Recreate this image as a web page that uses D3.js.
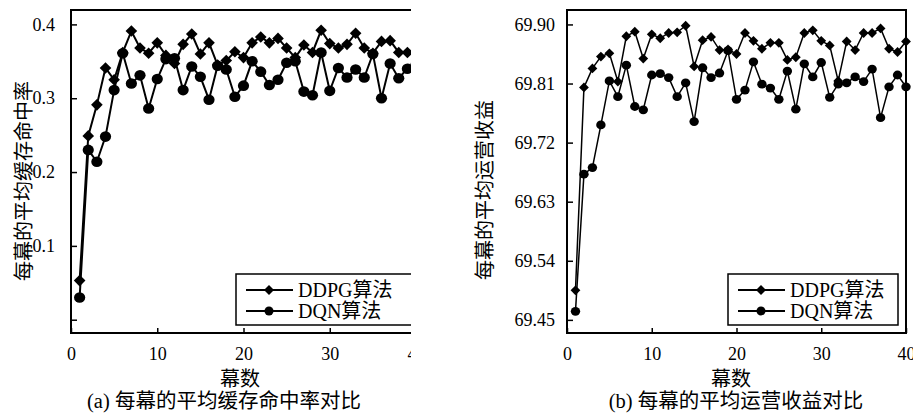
<!DOCTYPE html>
<html>
<head>
<meta charset="utf-8">
<script src="https://cdn.jsdelivr.net/npm/d3@7"></script>
<style>
  body { margin: 0; background: #fff; }
  text { font-family: "Liberation Serif", "Noto Sans CJK SC", serif; fill: #000; }
</style>
</head>
<body>
<svg id="chart" width="913" height="417"></svg>
<script>
// episode index (x)
var episodes = [1,2,3,4,5,6,7,8,9,10,11,12,13,14,15,16,17,18,19,20,
                21,22,23,24,25,26,27,28,29,30,31,32,33,34,35,36,37,38,39,40];

// (a) average cache hit rate per episode
var hitDDPG = [0.053,0.249,0.291,0.341,0.325,0.362,0.391,0.368,0.361,0.375,
               0.358,0.347,0.373,0.387,0.360,0.375,0.345,0.351,0.363,0.355,
               0.375,0.383,0.375,0.381,0.368,0.355,0.372,0.362,0.392,0.374,
               0.368,0.373,0.388,0.368,0.361,0.377,0.378,0.362,0.362,0.360];
var hitDQN  = [0.030,0.230,0.214,0.248,0.311,0.361,0.320,0.331,0.286,0.326,
               0.353,0.354,0.311,0.343,0.329,0.298,0.344,0.339,0.302,0.317,
               0.350,0.336,0.318,0.325,0.348,0.350,0.309,0.304,0.362,0.310,
               0.341,0.328,0.339,0.328,0.360,0.300,0.347,0.327,0.340,0.345];

// (b) average operating revenue per episode
var revDDPG = [69.495,69.804,69.833,69.851,69.856,69.813,69.882,69.889,69.848,69.885,
               69.879,69.887,69.888,69.898,69.836,69.876,69.881,69.861,69.862,69.855,
               69.887,69.875,69.863,69.872,69.872,69.846,69.850,69.887,69.891,69.875,
               69.868,69.814,69.874,69.861,69.887,69.887,69.894,69.863,69.858,69.874];
var revDQN  = [69.463,69.672,69.682,69.747,69.814,69.790,69.838,69.775,69.770,69.823,
               69.825,69.819,69.790,69.811,69.752,69.834,69.819,69.826,69.860,69.786,
               69.800,69.843,69.809,69.803,69.786,69.829,69.771,69.840,69.820,69.842,
               69.789,69.809,69.811,69.820,69.813,69.832,69.758,69.805,69.823,69.805];

var xTicks = [0, 10, 20, 30, 40];
var hitTicks = [0, 0.1, 0.2, 0.3, 0.4];
var revTicks = [69.45, 69.54, 69.63, 69.72, 69.81, 69.90];
var seriesNames = ["DDPG算法", "DQN算法"];

var svg = d3.select("#chart");

function diamond(r) {
  return "M0," + (-r) + "L" + r + ",0L0," + r + "L" + (-r) + ",0Z";
}

function drawPanel(p) {
  var g = svg.append("g");
  if (p.clip) {
    svg.append("clipPath").attr("id", p.id + "-clip")
      .append("rect").attr("x", 0).attr("y", 0).attr("width", p.clip).attr("height", 417);
    g.attr("clip-path", "url(#" + p.id + "-clip)");
  }

  var x = d3.scaleLinear().domain([0, 40]).range([p.left, p.right]);
  var y = d3.scaleLinear().domain(p.yDomain).range([p.bottom, p.top]);

  // frame
  g.append("rect")
    .attr("x", p.left).attr("y", p.top)
    .attr("width", p.right - p.left).attr("height", p.bottom - p.top)
    .attr("fill", "none").attr("stroke", "#000").attr("stroke-width", 2);

  // axes with inward ticks
  var xa = g.append("g").attr("transform", "translate(0," + p.bottom + ")")
    .call(d3.axisBottom(x).tickValues(xTicks).tickSizeInner(-5).tickSizeOuter(0).tickPadding(14));
  var ya = g.append("g").attr("transform", "translate(" + p.left + ",0)")
    .call(d3.axisLeft(y).tickValues(p.yTicks).tickSizeInner(-6).tickSizeOuter(0)
      .tickPadding(p.yPad).tickFormat(p.yFormat));
  [xa, ya].forEach(function (a) {
    a.select(".domain").remove();
    a.selectAll("line").attr("stroke", "#000").attr("stroke-width", 1.5);
    a.selectAll("text").style("font-family", '"Liberation Serif", serif').style("font-size", "18px");
  });

  var line = d3.line().x(function (d, i) { return x(episodes[i]); }).y(function (d) { return y(d); });

  var series = [p.a, p.b];
  series.forEach(function (vals, k) {
    g.append("path").datum(vals)
      .attr("d", line).attr("fill", "none").attr("stroke", "#000").attr("stroke-width", p.lw);
    var m = g.append("g").selectAll(".m").data(vals).enter();
    if (k === 0) {
      m.append("path")
        .attr("transform", function (d, i) { return "translate(" + x(episodes[i]) + "," + y(d) + ")"; })
        .attr("d", diamond(p.r + 0.5)).attr("fill", "#000");
    } else {
      m.append("ellipse")
        .attr("cx", function (d, i) { return x(episodes[i]); })
        .attr("cy", function (d) { return y(d); })
        .attr("rx", p.r + 0.3).attr("ry", p.r).attr("fill", "#000");
    }
  });

  // legend
  var lg = g.append("g").attr("transform", "translate(" + p.legX + ",274)");
  lg.append("rect").attr("width", p.legW).attr("height", 51)
    .attr("fill", "#fff").attr("stroke", "#000").attr("stroke-width", 1.5);
  seriesNames.forEach(function (name, k) {
    var cy = 16 + k * 21;
    lg.append("line").attr("x1", 10).attr("x2", 57).attr("y1", cy).attr("y2", cy)
      .attr("stroke", "#000").attr("stroke-width", 1.8);
    if (k === 0) {
      lg.append("path").attr("transform", "translate(33," + cy + ")").attr("d", diamond(5)).attr("fill", "#000");
    } else {
      lg.append("circle").attr("cx", 33).attr("cy", cy).attr("r", 4.5).attr("fill", "#000");
    }
    lg.append("text").attr("x", 62).attr("y", cy).attr("dy", "0.35em")
      .style("font-size", "20px").text(name);
  });

  // titles
  svg.append("text").attr("x", p.xTitleX).attr("y", 379).attr("dy", "0.35em")
    .attr("text-anchor", "middle").style("font-size", "20px").text("幕数");
  svg.append("text").attr("x", p.capX).attr("y", 401).attr("dy", "0.35em")
    .attr("text-anchor", "middle").style("font-size", "20.5px").text(p.caption);
  svg.append("text")
    .attr("transform", "translate(" + p.yTitleX + "," + p.yTitleY + ") rotate(-90)")
    .attr("dy", "0.35em").attr("text-anchor", "middle").style("font-size", "20px").text(p.yTitle);
}

drawPanel({
  id: "hit", left: 71, right: 416, top: 10, bottom: 333, clip: 411,
  yDomain: [-0.018, 0.4195], yTicks: hitTicks, yPad: 16,
  yFormat: function (d) { return d === 0 ? "" : d3.format(".1f")(d); },
  a: hitDDPG, b: hitDQN, r: 5.3, lw: 2,
  legX: 236, legW: 178, xTitleX: 240, capX: 224, caption: "(a) 每幕的平均缓存命中率对比",
  yTitle: "每幕的平均缓存命中率", yTitleX: 24, yTitleY: 181
});

drawPanel({
  id: "rev", left: 567, right: 906, top: 10, bottom: 333, clip: 0,
  yDomain: [69.43, 69.922], yTicks: revTicks, yPad: 12,
  yFormat: d3.format(".2f"),
  a: revDDPG, b: revDQN, r: 4.4, lw: 1.5,
  legX: 728, legW: 170, xTitleX: 731, capX: 736, caption: "(b) 每幕的平均运营收益对比",
  yTitle: "每幕的平均运营收益", yTitleX: 485, yTitleY: 190
});
</script>
</body>
</html>
